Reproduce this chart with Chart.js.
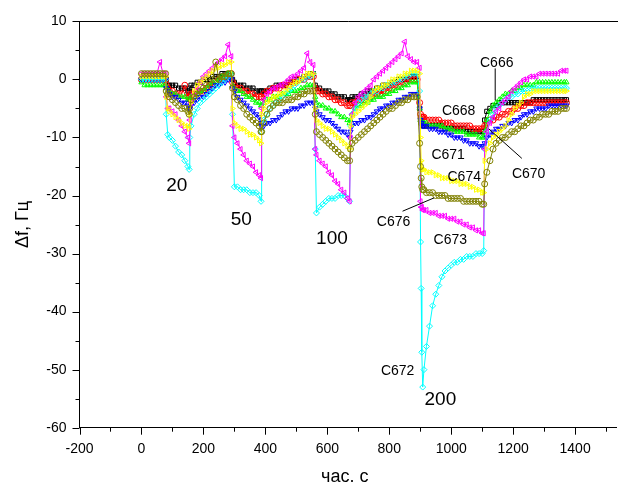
<!DOCTYPE html>
<html>
<head>
<meta charset="utf-8">
<script src="https://cdn.jsdelivr.net/npm/chart.js@4.4.1/dist/chart.umd.min.js"></script>
<style>
  body { margin: 0; background: #fff; }
  canvas { display: block; }
</style>
</head>
<body>
<canvas id="chart" width="621" height="485"></canvas>
<script>
// time, s (shared by all sensors)
let times = [
  0, 10, 20, 30, 40, 50, 60, 70, 78,
  80, 85, 90, 100, 110, 120, 130, 140, 150, 154,
  156, 160, 170, 180, 190, 200, 210, 220, 230, 240, 250, 260, 270, 280, 290,
  294, 300, 310, 320, 330, 340, 350, 360, 370, 380, 386,
  388, 395, 405, 415, 425, 435, 445, 455, 465, 475, 485, 495, 505, 515, 525, 535, 545, 555,
  561, 565, 575, 585, 595, 605, 615, 625, 635, 645, 655, 665, 672,
  675, 680, 690, 700, 710, 720, 730, 740, 750, 760, 770, 780, 790, 800, 810, 820, 830, 840, 850, 860, 870, 880, 890,
  898, 901, 903, 905, 908, 912, 920, 930, 940, 950, 960, 970, 980, 990, 1000, 1010, 1020, 1030, 1040, 1050, 1060, 1070, 1080, 1090, 1100, 1105,
  1108, 1115, 1125, 1135, 1145, 1155, 1165, 1175, 1185, 1195, 1205, 1215, 1225, 1235, 1245, 1255, 1265, 1275, 1285, 1295, 1305, 1315, 1325, 1335, 1345, 1355, 1365, 1372
];

let c666 = [
  0, 0, 0, 0, 0, 0, 0, 0, 0,
  0, -1, -1, -1, -1, -1.5, -1.5, -1.5, -2, -2,
  -1.5, -1, -1, -0.5, -0.5, 0, 0, 0, 0.5, 0.5, 0.5, 1, 1, 1, 1,
  0, -0.5, -1, -1, -1, -1.5, -1.5, -1.5, -2, -2, -2,
  -2, -2, -2, -1.5, -1.5, -1, -1, -1, -1, -0.5, -0.5, 0, 0, 0, 0.5, 0.5, 1, 1,
  -1, -1.5, -1.5, -2, -2, -2, -2.5, -2.5, -3, -3, -3, -3.5, -3.5,
  -3.5, -3, -3, -3, -2.5, -2.5, -2, -2, -2, -1.5, -1.5, -1, -1, -1, -0.5, -0.5, 0, 0, 0, 0, 0.5, 0.5, 0.5,
  -5, -7, -7.5, -7.5, -8, -8, -8, -8, -8, -8, -8, -8, -8.5, -8.5, -8.5, -8.5, -8.5, -8.5, -8.5, -9, -9, -9, -9, -9, -9, -9,
  -7, -5.5, -5, -4.5, -4.5, -4, -4, -4, -4, -4, -4, -4, -4, -4, -4, -4, -3.5, -3.5, -3.5, -3.5, -3.5, -3.5, -3.5, -3.5, -3.5, -3.5, -3.5, -3.5
];

let c668 = [
  0, 0, 0, 0, 0, 0, 0, 0, 0,
  -1, -1.5, -2, -2, -2.5, -2.5, -2.5, -1, -3, -3,
  -3, -2.5, -2.5, -2, -2, -2, -1.5, -1, -1, -0.5, 0, 0, 0.5, 0.5, 1,
  -0.5, -1, -1.5, -1.5, -2, -2, -2.5, -2.5, -3, -3, -3,
  -3, -2.5, -2, -2, -1.5, -1.5, -1.5, -1, -1, -1, -0.5, -0.5, 0, 0, 0, 0.5, 0.5, 0.5,
  -1.5, -2, -2, -2.5, -2.5, -3, -3, -3.5, -3.5, -4, -4, -4.5, -4.5,
  -4.5, -4, -4, -3.5, -3.5, -3.5, -3, -3, -2.5, -2.5, -2.5, -2, -2, -1.5, -1.5, -1, -1, -0.5, -0.5, 0, 0, 0, 0,
  -4, -6, -6.5, -6.5, -6.5, -6.5, -7, -7, -7, -7, -7, -7.5, -7.5, -7.5, -7.5, -8, -8, -8, -8, -8, -8, -8.5, -8.5, -8.5, -8.5, -8.5,
  -8, -7.5, -7, -7, -6.5, -6.5, -6, -6, -5.5, -5.5, -5, -5, -4.5, -4.5, -4, -4, -4, -4, -4, -4, -4, -4, -4, -4, -4, -4, -4, -4
];

let c670 = [
  -0.5, -1, -1, -1, -1, -1, -1, -1, -1,
  -1.5, -2, -2, -2.5, -2.5, -3, -3, -3, -3.5, -3.5,
  -3.5, -3, -3, -2.5, -2, -2, -1.5, -1, -0.5, -0.5, 0, 0.5, 0.5, 1, 1,
  -1, -1.5, -2, -2, -2.5, -3, -3, -3.5, -4, -4, -4.5,
  -4.5, -4, -3.5, -3.5, -3, -3, -3, -2.5, -2.5, -2.5, -2, -2, -2, -1.5, -1.5, -1, -1, -1,
  -3, -4, -4.5, -4.5, -5, -5, -5.5, -5.5, -6, -6.5, -6.5, -7, -7.5,
  -7, -6, -5, -4.5, -4.5, -4, -4, -3.5, -3.5, -3, -3, -3, -2.5, -2.5, -2, -2, -1.5, -1.5, -1, -1, -0.5, -0.5, -0.5,
  -5, -7, -7, -7.5, -7.5, -7.5, -7.5, -8, -8, -8, -8, -8, -8.5, -8.5, -8.5, -9, -9, -9, -9, -9.5, -9.5, -9.5, -9.5, -10, -10, -10,
  -9, -7, -5.5, -4.5, -4, -3.5, -3, -2.5, -2.5, -2, -2, -1.5, -1.5, -1, -1, -1, -1, -0.5, -0.5, -0.5, -0.5, -0.5, -0.5, -0.5, -0.5, -0.5, -0.5, -0.5
];

let c671 = [
  0, 0, 0, 0, 0, 0, 0, 0, 0,
  -1.5, -2, -2.5, -3, -3, -3.5, -4, -4, -4.5, -5,
  -5, -4.5, -4, -3.5, -3, -3, -2.5, -2, -1.5, -1, -1, -0.5, -0.5, 0, 0,
  -1.5, -2, -3, -3.5, -4, -4.5, -5, -5.5, -6, -6.5, -7.5,
  -8, -8, -7.5, -7.5, -7, -7, -6.5, -6, -5.5, -5.5, -5, -5, -5, -4.5, -4.5, -4, -4, -4,
  -5, -5.5, -6, -6.5, -7, -7, -7.5, -8, -8.5, -9, -9, -9.5, -10,
  -9, -8, -7.5, -7.5, -7, -7, -6.5, -6.5, -6, -5.5, -5, -5, -4.5, -4.5, -4, -4, -3.5, -3.5, -3, -3, -2.5, -2.5, -2.5,
  -5, -7, -7.5, -7.5, -8, -8, -8, -8.5, -8.5, -8.5, -9, -9, -9, -9.5, -9.5, -10, -10, -10, -10.5, -10.5, -11, -11, -11, -11.5, -11.5, -11.5,
  -11, -10, -9.5, -9, -8.5, -8.5, -8, -8, -7.5, -7.5, -7, -7, -6.5, -6, -6, -5.5, -5.5, -5, -5, -5, -5, -4.5, -4.5, -4.5, -4.5, -4.5, -4.5, -4.5
];

let c672 = [
  0, 0, 0, 0, 0, 0, 0, 0, 0,
  -6, -9.5, -10, -10.5, -11.5, -12.5, -13, -14, -15, -15.5,
  -10, -8, -6, -5, -4, -3.5, -3, -2.5, -2, -1.5, -1, -0.5, 0, 0.5, 1,
  -6, -18.5, -18.5, -19, -19, -19, -19.5, -19.5, -19.5, -20, -21,
  -9, -7, -6, -5, -4.5, -4, -3.5, -3, -2.5, -2, -1.5, -1, -0.5, 0, 0, 0.5, 0.5, 1,
  -12, -23, -22, -21.5, -21, -20.5, -20.5, -20.5, -20, -20, -20, -20.5, -21,
  -8, -6, -5, -4, -3.5, -3, -3, -2.5, -2, -2, -1.5, -1.5, -1, -1, -0.5, -0.5, 0, 0, 0.5, 0.5, 1, 1, 1,
  -2, -28, -36, -47, -53, -50, -46, -42.5, -39, -37, -35.5, -34, -33, -32.5, -32, -31.5, -31.5, -31, -31, -30.5, -30.5, -30.5, -30, -30, -30, -29.5,
  -12, -9, -7, -6, -5, -4.5, -4, -3.5, -3, -3, -2.5, -2.5, -2, -2, -2, -1.5, -1.5, -1.5, -1.5, -1.5, -1.5, -1.5, -1.5, -1.5, -1.5, -1.5, -1.5, -1.5
];

let c673 = [
  1, 1, 1, 1, 1, 1, 3, 1, 1,
  -3, -5, -5, -5.5, -6, -7, -8, -9, -10, -11,
  -7, -4, -2.5, -1.5, -0.5, 0.5, 1, 1.5, 2, 2.5, 3, 3.5, 4, 6, 4,
  -8, -10, -11, -12, -13, -14, -14.5, -15, -16, -16.5, -17,
  -5, -3.5, -2.5, -2, -1.5, -1.5, -1, -1, -0.5, 0, 0.5, 0.5, 1, 1.5, 2, 4.5, 3, 2.5,
  -12, -13, -14, -14.5, -15, -16, -16.5, -17.5, -18, -19, -19.5, -20.5, -21,
  -10, -6, -4, -3, -2.5, -2, -1.5, -1, 0, 0.5, 1, 1.5, 2, 2.5, 3, 3.5, 4, 4.5, 6.5, 4, 3.5, 3, 3,
  2, -21, -22, -22, -22.5, -22.5, -22.5, -23, -23, -23, -23.5, -23.5, -23.5, -24, -24, -24, -24.5, -24.5, -25, -25, -25.5, -25.5, -26, -26, -26.5, -26.5,
  -12, -9, -7.5, -6.5, -5.5, -5, -4, -3.5, -3, -2, -1.5, -1, -0.5, 0, 0, 0.5, 0.5, 0.5, 1, 1, 1, 1, 1, 1, 1, 1.5, 1.5, 1.5
];

let c674 = [
  0.5, 0.5, 0.5, 0.5, 0.5, 0.5, 0.5, 0.5, 0.5,
  -3, -5, -5.5, -6, -6.5, -7, -7.5, -8, -8, -8.5,
  -6, -4, -2, -1, -0.5, 0, 0.5, 1, 1.5, 2, 2, 2.5, 2.5, 3, 3,
  -5, -7.5, -8, -8.5, -8.5, -9, -9.5, -9.5, -10, -10.5, -11,
  -6, -5, -4, -3.5, -3, -3, -2.5, -2.5, -2, -1.5, -1, -0.5, -0.5, 0, 0.5, 1, 1, 1,
  -5, -7, -7.5, -8, -8.5, -8.5, -9, -9.5, -10, -10.5, -11, -11.5, -12,
  -8, -6.5, -6, -5.5, -5, -4.5, -4, -3, -2, -1.5, -1.5, -1, -1, -0.5, 0, 0, 0.5, 0.5, 1, 1, 1.5, 1.5, 1.5,
  1, -10, -14, -15.5, -15.5, -15.5, -16, -16, -16, -16.5, -16.5, -17, -17, -17, -17.5, -17.5, -17.5, -18, -18, -18, -18.5, -18.5, -19, -19, -19.5, -19.5,
  -14, -12, -11, -10, -9.5, -9, -8.5, -8, -7, -6, -5, -4.5, -4, -3, -2.5, -2.5, -2, -2, -2, -2, -2, -2, -2, -2, -2, -2, -2, -2
];

let c676 = [
  1, 1, 1, 1, 1, 1, 1, 1, 1,
  -2, -2.5, -3, -3.5, -4, -4.5, -5, -5, -5.5, -6,
  -5, -3.5, -3, -2.5, -2, -1.5, -1, -0.5, 0, 3, 0, 0.5, 0.5, 1, 1,
  -1.5, -3, -3.5, -4.5, -5, -6, -6.5, -7, -7.5, -8, -9,
  -9, -7.5, -6, -5, -4.5, -4, -4, -4, -3.5, -3.5, -3.5, -3, -3, -2.5, -2.5, -2, -2, -2,
  -6, -9, -9.5, -10, -10.5, -11, -11.5, -12, -12.5, -13, -13.5, -14, -14,
  -12, -11, -10.5, -10, -9.5, -9, -8.5, -8, -7.5, -7, -6.5, -6, -5.5, -5, -5, -4.5, -4, -4, -3.5, -3.5, -3, -3, -3,
  -11, -15, -17, -18.5, -19, -19, -19.5, -19.5, -19.5, -20, -20, -20, -20, -20.5, -20.5, -20.5, -20.5, -20.5, -21, -21, -21, -21, -21, -21, -21.5, -21.5,
  -18, -16, -14, -12, -11, -10.5, -10, -10, -9.5, -9, -9, -8.5, -8, -8, -7.5, -7, -7, -6.5, -6.5, -6, -6, -6, -5.5, -5.5, -5.5, -5, -5, -5
];

let curveNames = ['C666', 'C668', 'C670', 'C671', 'C672', 'C673', 'C674', 'C676'];
let curveValues = [c666, c668, c670, c671, c672, c673, c674, c676];

// styles, Origin default order
let curveColors = ['#000000', '#ff0000', '#00ff00', '#0000ff', '#00ffff', '#ff00ff', '#ffff00', '#808000'];
let curveSymbols = ['rect', 'circle', 'triangle', 'triangle', 'rectRot', 'triangle', 'triangle', 'circle'];
let curveRotation = [0, 0, 0, 180, 0, 270, 90, 0];

// concentration labels and sensor labels (data coords)
let doseText = ['20', '50', '100', '200'];
let dosePos = [[114, -18.4], [322, -24.1], [615, -27.4], [965, -55.2]];
let nameText = ['C666', 'C668', 'C671', 'C674', 'C670', 'C676', 'C673', 'C672'];
let namePos = [[1147, 2.8], [1024, -5.5], [990, -13.1], [1042, -16.8], [1250, -16.3], [814, -24.6], [997, -27.7], [827, -50.3]];
let pointers = [[1142, 1.9, 1142, -3.6], [1228, -13.6, 1121, -8.5], [843, -22.7, 945, -20.4]];

let datasets = curveValues.map((vals, i) => ({
  label: curveNames[i],
  data: times.map((t, j) => ({ x: t, y: vals[j] })),
  borderColor: curveColors[i],
  backgroundColor: 'rgba(255,255,255,0)',
  borderWidth: 1,
  pointStyle: curveSymbols[i],
  rotation: curveRotation[i],
  pointRadius: 3,
  pointBorderWidth: 1,
  pointBorderColor: curveColors[i],
  pointBackgroundColor: 'rgba(255,255,255,0)',
  tension: 0,
  order: 7 - i
}));

let fontName = '"Liberation Sans", Arial, sans-serif';

let decor = {
  id: 'decor',
  afterDraw(chart) {
    let ctx = chart.ctx;
    let area = chart.chartArea;
    let xs = chart.scales.x;
    let ys = chart.scales.y;
    ctx.save();
    ctx.strokeStyle = '#000';
    ctx.lineWidth = 1;

    // top frame line
    ctx.beginPath();
    ctx.moveTo(area.left, Math.round(area.top) + 0.5);
    ctx.lineTo(area.right + 2, Math.round(area.top) + 0.5);
    ctx.stroke();

    // tick marks
    ctx.beginPath();
    for (let v = -200; v <= 1500; v += 100) {
      let px = Math.round(xs.getPixelForValue(v)) + 0.5;
      let len = v % 200 === 0 ? 7 : 4;
      ctx.moveTo(px, area.bottom);
      ctx.lineTo(px, area.bottom + len);
    }
    for (let v = -60; v <= 10; v += 5) {
      let py = Math.round(ys.getPixelForValue(v)) + 0.5;
      let len = v % 10 === 0 ? 7 : 4;
      ctx.moveTo(area.left, py);
      ctx.lineTo(area.left - len, py);
    }
    ctx.stroke();

    // axis titles
    ctx.fillStyle = '#000';
    ctx.font = '18px ' + fontName;
    ctx.textAlign = 'center';
    ctx.textBaseline = 'alphabetic';
    ctx.fillText('час. с', (area.left + 610) / 2, 482);
    ctx.save();
    ctx.translate(28, (area.top + area.bottom) / 2);
    ctx.rotate(-Math.PI / 2);
    ctx.fillText('Δf, Гц', 0, 0);
    ctx.restore();

    // annotations
    ctx.textBaseline = 'middle';
    ctx.font = '19px ' + fontName;
    doseText.forEach((s, i) => {
      ctx.fillText(s, xs.getPixelForValue(dosePos[i][0]), ys.getPixelForValue(dosePos[i][1]));
    });
    ctx.font = '14px ' + fontName;
    nameText.forEach((s, i) => {
      ctx.fillText(s, xs.getPixelForValue(namePos[i][0]), ys.getPixelForValue(namePos[i][1]));
    });
    ctx.beginPath();
    pointers.forEach(p => {
      ctx.moveTo(xs.getPixelForValue(p[0]), ys.getPixelForValue(p[1]));
      ctx.lineTo(xs.getPixelForValue(p[2]), ys.getPixelForValue(p[3]));
    });
    ctx.stroke();
    ctx.restore();
  }
};

new Chart(document.getElementById('chart'), {
  type: 'line',
  data: { datasets: datasets },
  options: {
    responsive: false,
    animation: false,
    layout: { padding: { top: 20.7, right: 1, left: 0, bottom: 0 } },
    plugins: { legend: { display: false }, tooltip: { enabled: false } },
    scales: {
      x: {
        type: 'linear',
        min: -200,
        max: 1532,
        grid: { display: false, drawTicks: false },
        border: { display: true, color: '#000', width: 1 },
        ticks: {
          stepSize: 200,
          includeBounds: false,
          autoSkip: false,
          maxRotation: 0,
          padding: 13,
          color: '#000',
          font: { family: fontName, size: 14 },
          callback: v => String(v)
        },
        afterFit(scale) { scale.height = 485 - 427.7; }
      },
      y: {
        min: -60,
        max: 10,
        grid: { display: false, drawTicks: false },
        border: { display: true, color: '#000', width: 1 },
        ticks: {
          stepSize: 10,
          padding: 13,
          color: '#000',
          font: { family: fontName, size: 14 },
          callback: v => String(v)
        },
        afterFit(scale) { scale.width = 79.5; }
      }
    }
  },
  plugins: [decor]
});
</script>
</body>
</html>
